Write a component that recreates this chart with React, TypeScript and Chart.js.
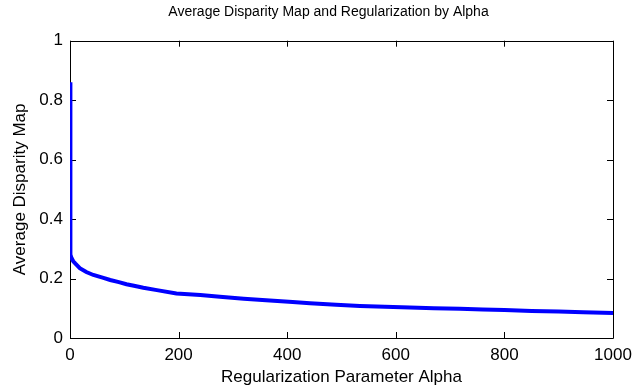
import React, { useEffect, useRef } from "react";
import { Chart, registerables } from "chart.js";

Chart.register(...registerables);

const alphaValues = [0, 0.5, 1, 3, 6, 10, 18, 30, 43, 60, 74, 90, 104, 120, 135, 160, 196, 240, 276, 320, 368, 410, 442, 490, 534, 580, 626, 670, 718, 760, 800, 850, 900, 945, 1000];
const disparityValues = [0.86, 0.3, 0.28, 0.268, 0.258, 0.25, 0.235, 0.222, 0.212, 0.203, 0.195, 0.188, 0.181, 0.175, 0.169, 0.161, 0.15, 0.145, 0.139, 0.132, 0.126, 0.121, 0.117, 0.112, 0.108, 0.105, 0.103, 0.1, 0.098, 0.096, 0.094, 0.091, 0.089, 0.087, 0.084];
const xTicks = [0, 200, 400, 600, 800, 1000];
const yTicks = [0, 0.2, 0.4, 0.6, 0.8, 1];

const chartTitle = "Average Disparity Map and Regularization by Alpha";
const xTitle = "Regularization Parameter Alpha";
const yTitle = "Average Disparity Map";

const FONT = '"Liberation Sans", Arial, sans-serif';

const framePlugin = {
  id: "matlabFrame",
  beforeDatasetsDraw(chart: any) {
    const { ctx, chartArea } = chart;
    const { left, right, top, bottom } = chartArea;
    const xs = chart.scales.x;
    const ys = chart.scales.y;
    const tl = 6;
    ctx.save();
    ctx.strokeStyle = "#000";
    ctx.lineWidth = 1;
    ctx.beginPath();
    ctx.rect(Math.round(left) + 0.5, Math.round(top) + 0.5, Math.round(right - left), Math.round(bottom - top));
    xTicks.forEach((v) => {
      const px = Math.round(xs.getPixelForValue(v)) + 0.5;
      ctx.moveTo(px, bottom);
      ctx.lineTo(px, bottom - tl);
      ctx.moveTo(px, top);
      ctx.lineTo(px, top + tl);
    });
    yTicks.forEach((v) => {
      const py = Math.round(ys.getPixelForValue(v)) + 0.5;
      ctx.moveTo(left, py);
      ctx.lineTo(left + tl, py);
      ctx.moveTo(right, py);
      ctx.lineTo(right - tl, py);
    });
    ctx.stroke();
    ctx.restore();
  },
};

export default function App() {
  const ref = useRef<HTMLCanvasElement>(null);
  useEffect(() => {
    if (!ref.current) return;
    Chart.defaults.color = "#000";
    const chart = new Chart(ref.current, {
      type: "line",
      data: {
        datasets: [
          {
            data: alphaValues.map((a, i) => ({ x: a, y: disparityValues[i] })),
            borderColor: "#0000ff",
            backgroundColor: "#0000ff",
            borderWidth: 4,
            pointRadius: 0,
            tension: 0,
            fill: false,
          },
        ],
      },
      options: {
        animation: false,
        responsive: false,
        layout: { padding: { left: 14, right: 0, top: 0, bottom: 0 } },
        plugins: {
          legend: { display: false },
          tooltip: { enabled: false },
          title: {
            display: true,
            text: chartTitle,
            color: "#000",
            font: { family: FONT, size: 14, weight: "normal" },
            padding: { top: 3.6, bottom: 20.3 },
          },
        },
        scales: {
          x: {
            type: "linear",
            min: 0,
            max: 1000,
            afterBuildTicks: (s: any) => {
              s.ticks = xTicks.map((v) => ({ value: v }));
            },
            afterFit: (s: any) => {
              s.height = 51;
              s.paddingRight = 30;
            },
            grid: { display: false, drawTicks: false },
            border: { display: false },
            ticks: {
              padding: 7,
              color: "#000",
              font: { family: FONT, size: 17 },
              maxRotation: 0,
              autoSkip: false,
              callback: (v: any) => String(v),
            },
            title: { display: true, text: xTitle, color: "#000", font: { family: FONT, size: 17 }, padding: { top: 0, bottom: 1 } },
          },
          y: {
            type: "linear",
            min: 0,
            max: 1,
            afterBuildTicks: (s: any) => {
              s.ticks = yTicks.map((v) => ({ value: v }));
            },
            afterFit: (s: any) => {
              s.width = 56;
            },
            grid: { display: false, drawTicks: false },
            border: { display: false },
            ticks: {
              padding: 7,
              color: "#000",
              font: { family: FONT, size: 17 },
              callback: (v: any) => String(v),
            },
            title: { display: true, text: yTitle, color: "#000", font: { family: FONT, size: 17 }, padding: { top: -4.2, bottom: 0 } },
          },
        },
      },
      plugins: [framePlugin],
    });
    return () => chart.destroy();
  }, []);
  return (
    <div style={{ position: "absolute", left: 0, top: 0, width: 643, height: 389, background: "#fff" }}>
      <canvas ref={ref} width={643} height={389} style={{ display: "block" }} />
    </div>
  );
}
